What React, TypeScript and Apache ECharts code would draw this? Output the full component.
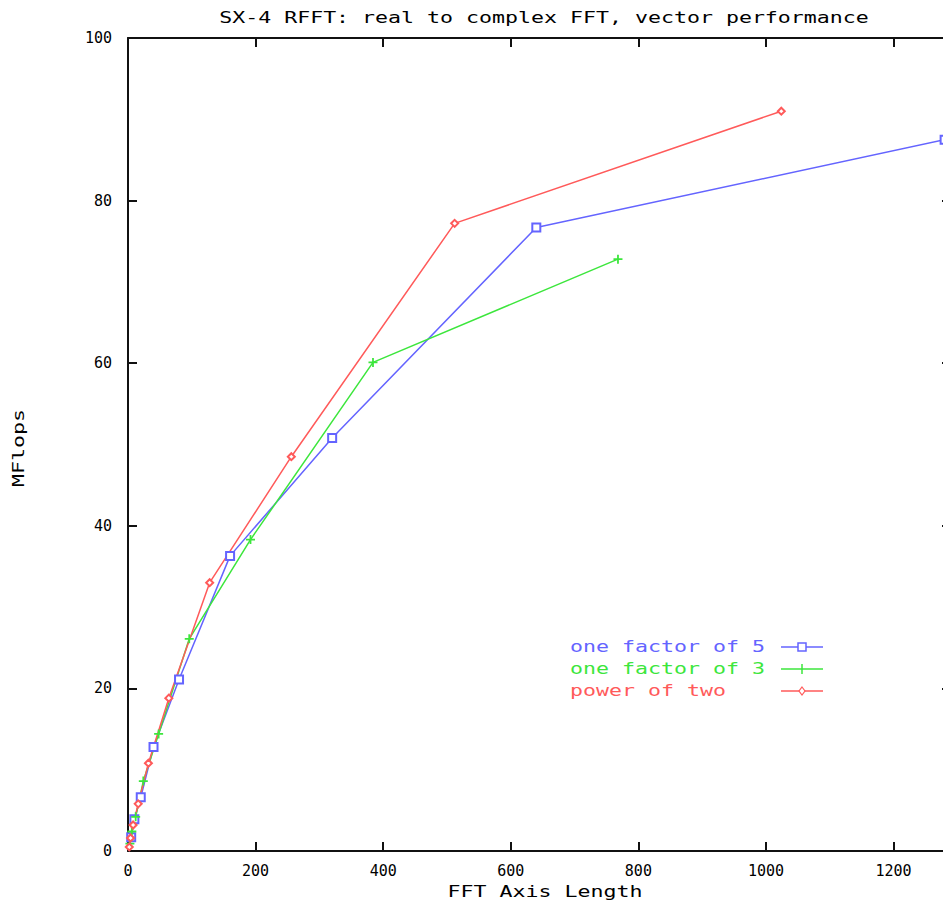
import React, { useEffect, useRef } from "react";
import * as echarts from "echarts";

const TITLE = "SX-4 RFFT: real to complex FFT, vector performance";
const X_NAME = "FFT Axis Length";
const Y_NAME = "MFlops";
const SERIES_NAMES = ["one factor of 5", "one factor of 3", "power of two"];
const COLORS = ["#6464ff", "#3ce63c", "#ff5a5a"];

const f5X = [5, 10, 20, 40, 80, 160, 320, 640, 1280];
const f5Y = [1.7, 3.9, 6.6, 12.8, 21.1, 36.3, 50.8, 76.7, 87.5];
const f3X = [3, 6, 12, 24, 48, 96, 192, 384, 768];
const f3Y = [0.9, 2.4, 4.2, 8.6, 14.4, 26.1, 38.3, 60.1, 72.8];
const p2X = [2, 4, 8, 16, 32, 64, 128, 256, 512, 1024];
const p2Y = [0.5, 1.6, 3.2, 5.8, 10.8, 18.8, 33.0, 48.5, 77.2, 91.0];

const X_MIN = 0;
const X_MAX = 1290;
const X_STEP = 200;
const Y_MIN = 0;
const Y_MAX = 100;
const Y_STEP = 20;

const FONT_FAMILY = '"DejaVu Sans Mono", "Liberation Mono", monospace';
const FONT = '15px "DejaVu Sans Mono", "Liberation Mono", monospace';
const SX = 1.44;
const AXIS_COLOR = "#111";

const PLUS_PATH = "path://M4,0H6V4H10V6H6V10H4V6H0V4H4Z";

function pairs(xs: number[], ys: number[]) {
  return xs.map((x, i) => [x, ys[i]]);
}

function textEl(text: string, x: number, y: number, fill: string, align: string, extra: any = {}) {
  return {
    type: "text",
    x,
    y,
    scaleX: SX,
    ...extra,
    style: {
      text,
      font: FONT,
      fill,
      textAlign: align,
      align,
      textVerticalAlign: "middle",
      verticalAlign: "middle",
    },
  };
}

export default function App() {
  const ref = useRef<HTMLDivElement>(null);

  useEffect(() => {
    document.documentElement.style.overflow = "hidden";
    document.body.style.overflow = "hidden";
    const chart = echarts.init(ref.current!, undefined, { renderer: "svg" });

    const axisLine = { show: true, onZero: false, lineStyle: { color: AXIS_COLOR, width: 2 } };
    const axisTick = { show: true, inside: true, length: 9, lineStyle: { color: AXIS_COLOR, width: 2 } };
    const labelStyle = { fontFamily: FONT_FAMILY, fontSize: 15, color: "#000" };

    const legendRows = [639, 661, 683];
    const legendTextX = 562;
    const lineX1 = 773;
    const lineX2 = 815;
    const mx = 794;

    const legendEls: any[] = [];
    SERIES_NAMES.forEach((name, i) => {
      const y = legendRows[i];
      legendEls.push(textEl(name, legendTextX, y, COLORS[i], "left"));
      legendEls.push({
        type: "line",
        shape: { x1: lineX1, y1: y, x2: lineX2, y2: y },
        style: { stroke: COLORS[i], lineWidth: 1.5 },
      });
    });
    legendEls.push({
      type: "rect",
      shape: { x: mx - 4, y: legendRows[0] - 4, width: 8, height: 8 },
      style: { fill: "#fff", stroke: COLORS[0], lineWidth: 1.5 },
    });
    legendEls.push({
      type: "line",
      shape: { x1: mx, y1: legendRows[1] - 5, x2: mx, y2: legendRows[1] + 5 },
      style: { stroke: COLORS[1], lineWidth: 1.5 },
    });
    legendEls.push({
      type: "polygon",
      shape: {
        points: [
          [mx, legendRows[2] - 4],
          [mx + 3, legendRows[2]],
          [mx, legendRows[2] + 4],
          [mx - 3, legendRows[2]],
        ],
      },
      style: { fill: "#fff", stroke: COLORS[2], lineWidth: 1.2 },
    });

    chart.setOption({
      animation: false,
      backgroundColor: "#fff",
      grid: { left: 120, top: 30, right: -1, bottom: 54, containLabel: false },
      xAxis: [
        {
          type: "value",
          position: "bottom",
          min: X_MIN,
          max: X_MAX,
          interval: X_STEP,
          axisLine,
          axisTick,
          axisLabel: {
            ...labelStyle,
            margin: 12,
            showMaxLabel: false,
            formatter: (v: number) => String(v),
          },
          splitLine: { show: false },
        },
        {
          type: "value",
          position: "top",
          min: X_MIN,
          max: X_MAX,
          interval: X_STEP,
          axisLine,
          axisTick,
          axisLabel: { show: false },
          splitLine: { show: false },
        },
      ],
      yAxis: [
        {
          type: "value",
          position: "left",
          min: Y_MIN,
          max: Y_MAX,
          interval: Y_STEP,
          axisLine,
          axisTick,
          axisLabel: { ...labelStyle, margin: 16, formatter: (v: number) => String(v) },
          splitLine: { show: false },
        },
        {
          type: "value",
          position: "right",
          min: Y_MIN,
          max: Y_MAX,
          interval: Y_STEP,
          axisLine,
          axisTick,
          axisLabel: { show: false },
          splitLine: { show: false },
        },
      ],
      series: [
        {
          name: SERIES_NAMES[0],
          type: "line",
          xAxisIndex: 0,
          yAxisIndex: 0,
          data: pairs(f5X, f5Y),
          symbol: "emptyRect",
          symbolSize: 8,
          clip: false,
          lineStyle: { color: COLORS[0], width: 1.5 },
          itemStyle: { color: COLORS[0], borderColor: COLORS[0], borderWidth: 1.5 },
        },
        {
          name: SERIES_NAMES[1],
          type: "line",
          xAxisIndex: 0,
          yAxisIndex: 0,
          data: pairs(f3X, f3Y),
          symbol: PLUS_PATH,
          symbolSize: 9,
          clip: false,
          lineStyle: { color: COLORS[1], width: 1.5 },
          itemStyle: { color: COLORS[1] },
        },
        {
          name: SERIES_NAMES[2],
          type: "line",
          xAxisIndex: 0,
          yAxisIndex: 0,
          data: pairs(p2X, p2Y),
          symbol: "emptyDiamond",
          symbolSize: 7,
          clip: false,
          lineStyle: { color: COLORS[2], width: 1.5 },
          itemStyle: { color: COLORS[2], borderColor: COLORS[2], borderWidth: 1.2 },
        },
      ],
      graphic: [
        textEl(TITLE, 536, 10, "#000", "center"),
        textEl(X_NAME, 537, 884, "#000", "center"),
        textEl(Y_NAME, 11, 440, "#000", "center", { rotation: Math.PI / 2 }),
        ...legendEls,
      ],
    });

    return () => {
      chart.dispose();
    };
  }, []);

  return <div ref={ref} style={{ width: 943, height: 897 }} />;
}
